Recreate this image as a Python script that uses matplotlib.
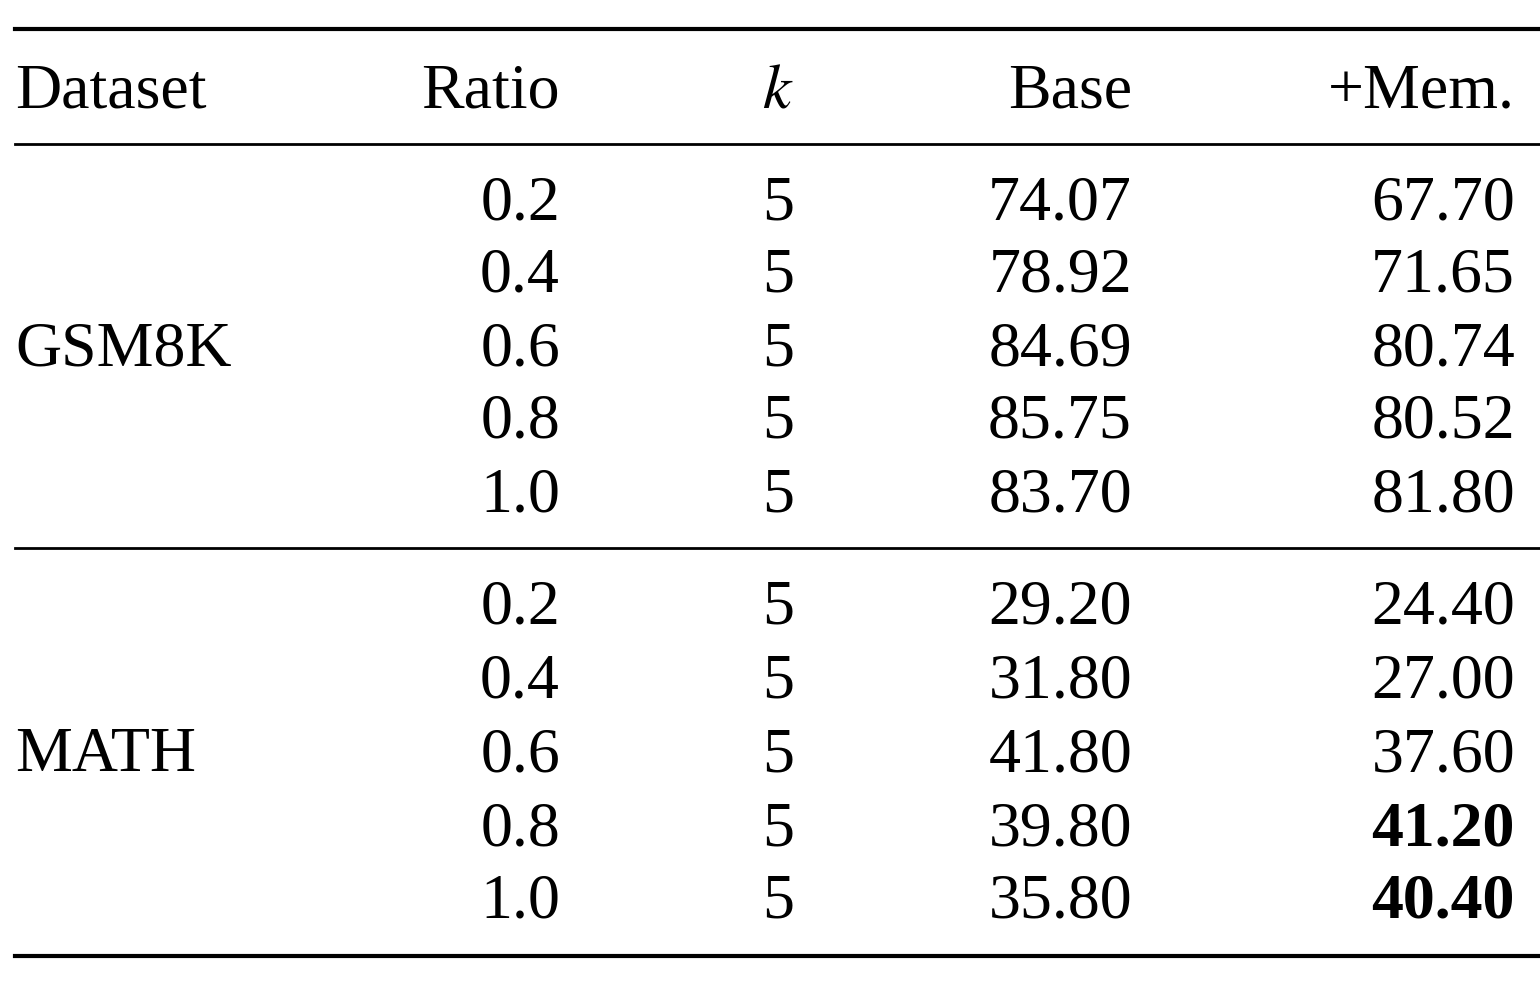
import matplotlib.pyplot as plt

datasets = ['GSM8K', 'MATH']
ratios = ['0.2', '0.4', '0.6', '0.8', '1.0']
k_vals = ['5', '5', '5', '5', '5']
base = [['74.07', '78.92', '84.69', '85.75', '83.70'],
        ['29.20', '31.80', '41.80', '39.80', '35.80']]
mem = [['67.70', '71.65', '80.74', '80.52', '81.80'],
       ['24.40', '27.00', '37.60', '41.20', '40.40']]
bold_mem = [[False] * 5, [False, False, False, True, True]]

plt.rcParams['font.family'] = ['Liberation Serif', 'DejaVu Serif']
plt.rcParams['mathtext.fontset'] = 'stix'

fig = plt.figure(figsize=(15.4, 9.87), dpi=100)
ax = fig.add_axes([0, 0, 1, 1])
ax.set_xlim(0, 1540)
ax.set_ylim(987, 0)
ax.axis('off')

fs = 46
# rules
ax.plot([15, 1540], [30, 30], color='black', lw=3)
ax.plot([15, 1540], [145, 145], color='black', lw=2)
ax.plot([15, 1540], [549, 549], color='black', lw=2)
ax.plot([15, 1540], [957, 957], color='black', lw=3)

hy = 92
ax.text(15, hy, 'Dataset', ha='left', va='center', fontsize=fs)
ax.text(560, hy, 'Ratio', ha='right', va='center', fontsize=fs)
ax.text(778, hy, '$k$', ha='center', va='center', fontsize=fs)
ax.text(1132, hy, 'Base', ha='right', va='center', fontsize=fs)
ax.text(1515, hy, '+Mem.', ha='right', va='center', fontsize=fs)

row_y = [[204, 276, 350, 423, 496], [608, 682, 756, 830, 903]]
for d, name in enumerate(datasets):
    ax.text(15, row_y[d][2], name, ha='left', va='center', fontsize=fs)
    for i in range(5):
        y = row_y[d][i]
        ax.text(560, y, ratios[i], ha='right', va='center', fontsize=fs)
        ax.text(778, y, k_vals[i], ha='center', va='center', fontsize=fs)
        ax.text(1132, y, base[d][i], ha='right', va='center', fontsize=fs)
        ax.text(1515, y, mem[d][i], ha='right', va='center', fontsize=fs,
                fontweight='bold' if bold_mem[d][i] else 'normal')

fig.savefig('out.png', dpi=100)
